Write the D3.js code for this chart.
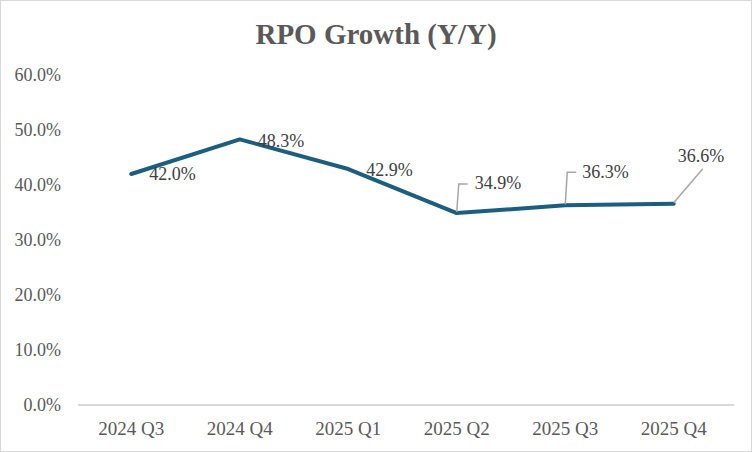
<!DOCTYPE html>
<html>
<head>
<meta charset="utf-8">
<script src="https://cdn.jsdelivr.net/npm/d3@7"></script>
<style>
  body { margin: 0; background: #fff; }
  svg { display: block; }
</style>
</head>
<body>
<div id="chart"></div>
<script>
// data
var quarters = ["2024 Q3", "2024 Q4", "2025 Q1", "2025 Q2", "2025 Q3", "2025 Q4"];
var rpoGrowth = [42.0, 48.3, 42.9, 34.9, 36.3, 36.6];
var yTicks = [0, 10, 20, 30, 40, 50, 60];

var width = 752, height = 452;
var margin = {top: 75, right: 24, bottom: 47, left: 77};
var serif = "'Liberation Serif', 'Times New Roman', serif";

var svg = d3.select("#chart").append("svg")
    .attr("width", width)
    .attr("height", height);

svg.append("rect")
    .attr("x", 0.5).attr("y", 0.5)
    .attr("width", width - 1).attr("height", height - 1)
    .style("fill", "#fff")
    .style("stroke", "#d9d9d9");

svg.append("text")
    .attr("x", width / 2)
    .attr("y", 44)
    .attr("text-anchor", "middle")
    .style("font-family", serif)
    .style("font-weight", "bold")
    .style("font-size", "29px")
    .style("fill", "#595959")
    .text("RPO Growth (Y/Y)");

var x = d3.scaleBand()
    .domain(quarters)
    .range([margin.left, width - margin.right]);

var y = d3.scaleLinear()
    .domain([0, 60])
    .range([height - margin.bottom, margin.top]);

// y axis labels only
var yAxis = svg.append("g")
    .attr("transform", `translate(${margin.left - 16},0)`)
    .call(d3.axisLeft(y).tickValues(yTicks).tickSize(0).tickPadding(0)
        .tickFormat(d => d3.format(".1f")(d) + "%"));
yAxis.select(".domain").remove();
yAxis.selectAll("text")
    .style("font-family", serif)
    .style("font-size", "18px")
    .style("fill", "#595959");

// x axis, baseline runs a bit past the last band like the original
var xAxis = svg.append("g")
    .attr("transform", `translate(0,${height - margin.bottom})`)
    .call(d3.axisBottom(x).tickSize(0).tickPadding(17));
xAxis.select(".domain")
    .attr("d", `M${margin.left + 1},0H${width - 18}`)
    .style("stroke", "#d9d9d9")
    .style("stroke-width", 2);
xAxis.selectAll("text")
    .style("font-family", serif)
    .style("font-size", "19px")
    .style("fill", "#595959");

var pts = quarters.map((q, i) => ({q: q, v: rpoGrowth[i]}));
var px = d => x(d.q) + x.bandwidth() / 2;

svg.append("path")
    .datum(pts)
    .attr("d", d3.line().x(px).y(d => y(d.v)))
    .style("fill", "none")
    .style("stroke", "#1b5e7e")
    .style("stroke-width", 4)
    .style("stroke-linejoin", "round")
    .style("stroke-linecap", "round");

// label placement relative to each point (dx, dy) and optional leader line
var labelOffsets = [
    {dx: 18, dy: 0, leader: null},
    {dx: 18, dy: 1, leader: null},
    {dx: 18, dy: 1, leader: null},
    {dx: 18, dy: -30, leader: "elbow"},
    {dx: 17, dy: -34, leader: "elbow"},
    {dx: 4, dy: -48, leader: "diag"}
];

pts.forEach(function(d, i) {
    var o = labelOffsets[i];
    var cx = px(d), cy = y(d.v);
    if (o.leader === "elbow") {
        svg.append("path")
            .attr("d", `M${cx},${cy - 1} L${cx + 2},${cy + o.dy + 1} L${cx + 11},${cy + o.dy + 1}`)
            .style("fill", "none")
            .style("stroke", "#a6a6a6")
            .style("stroke-width", 1.5);
    } else if (o.leader === "diag") {
        svg.append("line")
            .attr("x1", cx).attr("y1", cy - 1)
            .attr("x2", cx + 29).attr("y2", cy - 35)
            .style("stroke", "#a6a6a6")
            .style("stroke-width", 1.5);
    }
    svg.append("text")
        .attr("x", cx + o.dx)
        .attr("y", cy + o.dy)
        .attr("dy", "0.35em")
        .style("font-family", serif)
        .style("font-size", "18px")
        .style("fill", "#404040")
        .text(d.v.toFixed(1) + "%");
});
</script>
</body>
</html>
